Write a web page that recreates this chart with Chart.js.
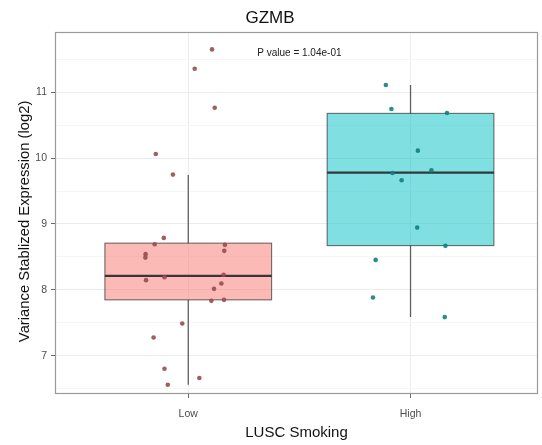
<!DOCTYPE html>
<html>
<head>
<meta charset="utf-8">
<script src="https://cdn.jsdelivr.net/npm/chart.js@4/dist/chart.umd.min.js"></script>
<style>
  html, body { margin: 0; padding: 0; background: #fff; }
  #wrap { width: 542px; height: 445px; }
</style>
</head>
<body>
<div id="wrap"><canvas id="c" width="542" height="445"></canvas></div>
<script>
// Groups on the x axis and their numeric positions
const groups = ['Low', 'High'];
const groupPos = [1, 2];

// Individual samples (expression) with their horizontal jitter around the group position
const lowValues  = [11.652, 11.358, 10.766, 10.064, 9.750, 8.789, 8.693, 8.683, 8.542, 8.490, 8.592, 8.147,
                    8.193, 8.228, 8.096, 8.015, 7.833, 7.848, 7.489, 7.276, 6.801, 6.660, 6.558];
const lowJitter  = [0.107, 0.029, 0.119, -0.146, -0.069, -0.110, -0.151, 0.165, -0.192, -0.193, 0.162, -0.190,
                    -0.107, 0.159, 0.149, 0.116, 0.104, 0.161, -0.027, -0.156, -0.107, 0.050, -0.092];
const highValues = [11.110, 10.747, 10.686, 10.114, 9.816, 9.775, 9.665, 8.945, 8.668, 8.455, 7.883, 7.586];
const highJitter = [-0.111, -0.086, 0.164, 0.033, 0.094, -0.081, -0.040, 0.030, 0.157, -0.157, -0.169, 0.154];

// Box summary per group (Low, High)
const whiskerLow  = [6.558, 7.586];
const q1          = [7.848, 8.672];
const medians     = [8.212, 9.780];
const q3          = [8.709, 10.680];
const whiskerHigh = [9.745, 11.110];

// Axis ticks
const yTicks = [7, 8, 9, 10, 11];
const yMinorTicks = [6.5, 7.5, 8.5, 9.5, 10.5, 11.5];
const pValueLabel = 'P value = 1.04e-01';
const yTitle = 'Variance Stablized Expression (log2)';

const FONT = '"Liberation Sans", Arial, sans-serif';
const boxFill   = ['rgba(248,118,109,0.5)', 'rgba(0,191,196,0.5)'];
const pointFill = ['rgba(152,76,82,0.9)', 'rgba(18,128,130,0.9)'];

const boxPlugin = {
  id: 'boxes',
  beforeDatasetsDraw(chart) {
    const ctx = chart.ctx;
    const xs = chart.scales.x, ys = chart.scales.y;
    ctx.save();
    groupPos.forEach((pos, i) => {
      const cx = xs.getPixelForValue(pos);
      const x0 = xs.getPixelForValue(pos - 0.375);
      const x1 = xs.getPixelForValue(pos + 0.375);
      // whiskers
      ctx.strokeStyle = 'rgba(70,70,70,0.85)';
      ctx.lineWidth = 1.3;
      ctx.beginPath();
      ctx.moveTo(cx, ys.getPixelForValue(whiskerHigh[i]));
      ctx.lineTo(cx, ys.getPixelForValue(q3[i]));
      ctx.moveTo(cx, ys.getPixelForValue(q1[i]));
      ctx.lineTo(cx, ys.getPixelForValue(whiskerLow[i]));
      ctx.stroke();
      // box
      const yTop = ys.getPixelForValue(q3[i]);
      const yBot = ys.getPixelForValue(q1[i]);
      ctx.fillStyle = boxFill[i];
      ctx.fillRect(x0, yTop, x1 - x0, yBot - yTop);
      ctx.strokeStyle = 'rgba(51,51,51,0.7)';
      ctx.lineWidth = 1.1;
      ctx.strokeRect(x0, yTop, x1 - x0, yBot - yTop);
      // median
      const ym = ys.getPixelForValue(medians[i]);
      ctx.strokeStyle = 'rgba(40,40,40,0.9)';
      ctx.lineWidth = 2.2;
      ctx.beginPath();
      ctx.moveTo(x0, ym);
      ctx.lineTo(x1, ym);
      ctx.stroke();
    });
    ctx.restore();
  },
  afterDatasetsDraw(chart) {
    const ctx = chart.ctx;
    const xs = chart.scales.x, ys = chart.scales.y;
    const a = chart.chartArea;
    ctx.save();
    // panel border
    ctx.strokeStyle = '#9a9a9a';
    ctx.lineWidth = 1.2;
    ctx.strokeRect(a.left + 0.5, a.top + 0.5, a.right - a.left - 1, a.bottom - a.top - 1);
    // p value annotation
    ctx.fillStyle = '#222';
    ctx.font = '10px ' + FONT;
    ctx.textAlign = 'center';
    ctx.textBaseline = 'middle';
    ctx.fillText(pValueLabel, xs.getPixelForValue(1.5), ys.getPixelForValue(11.6));
    // y axis title, rotated
    ctx.translate(25, ys.getPixelForValue(9.04));
    ctx.rotate(-Math.PI / 2);
    ctx.fillStyle = '#111';
    ctx.font = '14.8px ' + FONT;
    ctx.fillText(yTitle, 0, 0);
    ctx.restore();
  }
};

const isMajor = v => yTicks.includes(v);

new Chart(document.getElementById('c'), {
  type: 'scatter',
  data: {
    datasets: [
      {
        label: groups[0],
        data: lowValues.map((v, i) => ({ x: groupPos[0] + lowJitter[i], y: v })),
        backgroundColor: pointFill[0],
        borderWidth: 0,
        pointRadius: 2.3
      },
      {
        label: groups[1],
        data: highValues.map((v, i) => ({ x: groupPos[1] + highJitter[i], y: v })),
        backgroundColor: pointFill[1],
        borderWidth: 0,
        pointRadius: 2.3
      }
    ]
  },
  options: {
    responsive: false,
    animation: false,
    layout: { padding: { left: 0, right: 2, top: 0, bottom: 0 } },
    plugins: {
      legend: { display: false },
      tooltip: { enabled: false },
      title: {
        display: true,
        text: 'GZMB',
        color: '#111',
        font: { family: FONT, size: 17, weight: 'normal', lineHeight: 1.2 },
        padding: { top: 8, bottom: 3.6 }
      }
    },
    scales: {
      x: {
        type: 'linear',
        min: 0.4005,
        max: 2.5735,
        afterBuildTicks: axis => { axis.ticks = groupPos.map(v => ({ value: v })); },
        afterFit: scale => { scale.height = 51; },
        ticks: {
          callback: v => groups[groupPos.indexOf(v)],
          color: '#4d4d4d',
          font: { family: FONT, size: 10.5 },
          padding: 10,
          maxRotation: 0
        },
        grid: { color: '#ececec', tickColor: '#666', tickLength: 4, lineWidth: 1 },
        border: { display: false },
        title: {
          display: true,
          text: 'LUSC Smoking',
          color: '#111',
          font: { family: FONT, size: 15 },
          padding: { top: 0, bottom: 3 }
        }
      },
      y: {
        type: 'linear',
        min: 6.418,
        max: 11.916,
        afterBuildTicks: axis => {
          axis.ticks = [...yTicks, ...yMinorTicks].sort((a, b) => a - b).map(v => ({ value: v }));
        },
        afterFit: scale => { scale.width = 55; },
        ticks: {
          callback: v => (isMajor(v) ? String(v) : ''),
          color: '#4d4d4d',
          font: { family: FONT, size: 10.5 },
          padding: 4
        },
        grid: {
          color: c => (c.tick && isMajor(c.tick.value) ? '#ececec' : '#f6f6f6'),
          tickColor: c => (c.tick && isMajor(c.tick.value) ? '#666' : 'rgba(0,0,0,0)'),
          tickLength: 4,
          lineWidth: 1
        },
        border: { display: false },
        title: { display: false }
      }
    }
  },
  plugins: [boxPlugin]
});
</script>
</body>
</html>
